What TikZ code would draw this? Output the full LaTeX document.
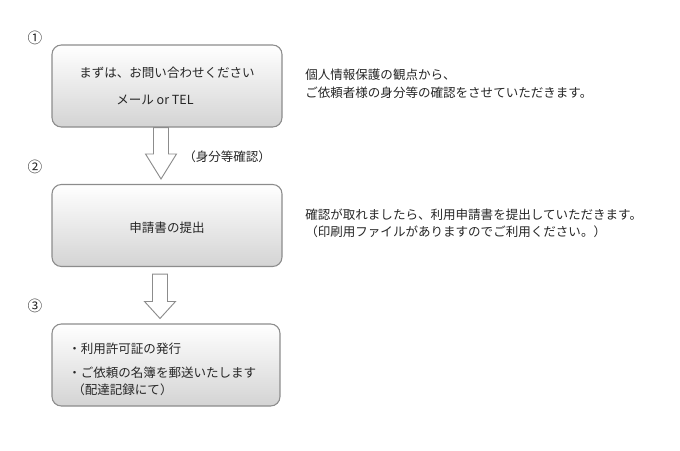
\documentclass[tikz,border=0pt]{standalone}
\usepackage{fontspec}
\setmainfont{Noto Sans CJK JP}
\usetikzlibrary{calc}
\definecolor{txt}{HTML}{262626}
\definecolor{edge}{HTML}{8C8C8C}
\tikzset{
  x=0.75pt, y=-0.75pt,
  stepbox/.style={draw=edge, line width=0.8pt, rounded corners=7pt,
    top color=white, bottom color=black!17, minimum width=172.5pt, minimum height=61.5pt},
  lbl/.style={text=txt, font=\fontsize{9.4}{11}\selectfont, inner sep=0pt},
  numlbl/.style={lbl, font=\fontsize{11}{13}\selectfont},
  blockarrow/.style={draw=edge, fill=white, line width=0.7pt, line join=miter},
}
\begin{document}
\begin{tikzpicture}
\useasboundingbox (0,0) rectangle (680,450);
% boxes
\node[stepbox] (b1) at (167,86) {};
\node[stepbox] (b2) at (167,225.5) {};
\node[stepbox, minimum width=171pt] (b3) at (166,365) {};
% numbers
\node[numlbl] (n1) at (35,38) {①};
\node[numlbl] (n2) at (35,167) {②};
\node[numlbl] (n3) at (35,306) {③};
% box texts
\node[lbl] (t1a) at (167,73) {まずは、お問い合わせください};
\node[lbl] (t1b) at (155,100) {メール or TEL};
\node[lbl] (t2) at (167,228) {申請書の提出};
\node[lbl, anchor=west] (t3a) at (68,349) {・利用許可証の発行};
\node[lbl, anchor=west] (t3b) at (68,373) {・ご依頼の名簿を郵送いたします};
\node[lbl, anchor=west] (t3c) at (72,390) {（配達記録にて）};
% side texts
\node[lbl, anchor=west] (s1a) at (305,75) {個人情報保護の観点から、};
\node[lbl, anchor=west] (s1b) at (305,93) {ご依頼者様の身分等の確認をさせていただきます。};
\node[lbl, anchor=west] (s2a) at (305,215) {確認が取れましたら、利用申請書を提出していただきます。};
\node[lbl, anchor=west] (s2b) at (305,232) {（印刷用ファイルがありますのでご利用ください。）};
\node[lbl, anchor=west] (a1l) at (183,157) {（身分等確認）};
% block arrows
\coordinate (a1s) at ($(b1.south)+(-6,0)$);
\coordinate (a1t) at ($(b2.north)+(-6,-5)$);
\draw[blockarrow] ($(a1s)+(-7.5,0)$) -- ($(a1s)+(7.5,0)$) -- ($(a1t)+(7.5,-25)$) -- ($(a1t)+(15.5,-25)$)
  -- (a1t) -- ($(a1t)+(-15.5,-25)$) -- ($(a1t)+(-7.5,-25)$) -- cycle;
\coordinate (a2s) at ($(b2.south)+(-7,7)$);
\coordinate (a2t) at ($(b3.north)+(-6,-5)$);
\draw[blockarrow] ($(a2s)+(-7.5,0)$) -- ($(a2s)+(7.5,0)$) -- ($(a2t)+(7.5,-17)$) -- ($(a2t)+(15.5,-17)$)
  -- (a2t) -- ($(a2t)+(-15.5,-17)$) -- ($(a2t)+(-7.5,-17)$) -- cycle;
\end{tikzpicture}
\end{document}
